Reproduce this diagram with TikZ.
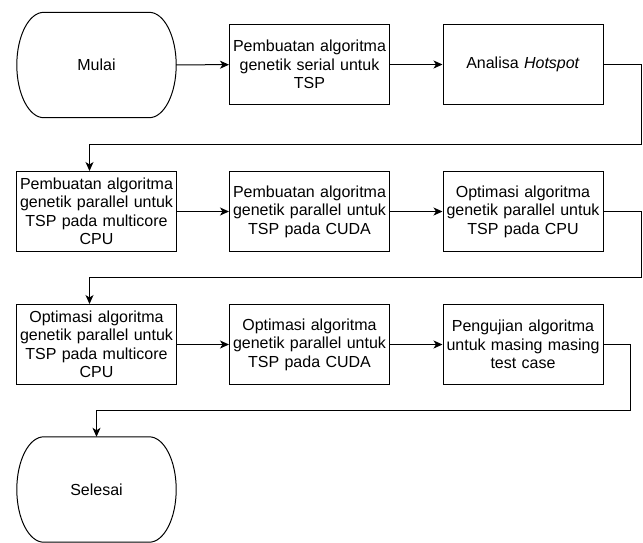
\documentclass[tikz,border=0pt]{standalone}
\usepackage{fontspec}
\setmainfont{Liberation Sans}
\usetikzlibrary{positioning, arrows.meta, calc}

\begin{document}
\begin{tikzpicture}[x=1pt,y=-1pt,
    font=\fontsize{16}{18.5}\selectfont, >={Stealth[length=9pt,width=8pt,inset=2.5pt]},
    proc/.style={rectangle,draw,line width=1pt,minimum width=160pt,minimum height=80pt,
                 text width=156pt,align=center,inner sep=0pt},
    term/.style={rectangle,minimum width=159pt,minimum height=105pt,inner sep=0pt},
    flow/.style={->,line width=1pt}]

  \useasboundingbox (0,0) rectangle (643,542);

  % baris 1
  \node[term] (mulai) at (96.5,65) {Mulai};
  \node[proc] (serial) at (309.5,64.5) {Pembuatan algoritma\\genetik serial untuk\\TSP};
  \node[proc] (hotspot) at (523,64.5) {Analisa \textit{Hotspot}};

  % baris 2
  \node[proc] (parmc) at (96.5,211.5) {Pembuatan algoritma\\genetik parallel untuk\\TSP pada multicore\\CPU};
  \node[proc] (parcuda) at (309.5,211.5) {Pembuatan algoritma\\genetik parallel untuk\\TSP pada CUDA};
  \node[proc] (optcpu) at (523,211.5) {Optimasi algoritma\\genetik parallel untuk\\TSP pada CPU};

  % baris 3
  \node[proc] (optmc) at (96.5,344.5) {Optimasi algoritma\\genetik parallel untuk\\TSP pada multicore\\CPU};
  \node[proc] (optcuda) at (309.5,344.5) {Optimasi algoritma\\genetik parallel untuk\\TSP pada CUDA};
  \node[proc] (uji) at (523,344.5) {Pengujian algoritma\\untuk masing masing\\test case};

  \node[term] (selesai) at (96.5,489.5) {Selesai};

  % bentuk terminator
  \foreach \n in {mulai,selesai}
    \draw[line width=1pt] ($(\n.north east)+(-27,0)$)
        .. controls ($(\n.north east)+(-12.1,0)$) and ($(\n.east)+(0,-29)$) .. (\n.east)
        .. controls ($(\n.east)+(0,29)$) and ($(\n.south east)+(-12.1,0)$) .. ($(\n.south east)+(-27,0)$)
        -- ($(\n.south west)+(27,0)$)
        .. controls ($(\n.south west)+(12.1,0)$) and ($(\n.west)+(0,29)$) .. (\n.west)
        .. controls ($(\n.west)+(0,-29)$) and ($(\n.north west)+(12.1,0)$) .. ($(\n.north west)+(27,0)$)
        -- cycle;

  \draw[flow] (mulai) -- (serial);
  \draw[flow] (serial) -- (hotspot);
  \draw[flow] (hotspot.east) -| ++(38,79.5) -| ([xshift=-7pt]parmc.north);
  \draw[flow] (parmc) -- (parcuda);
  \draw[flow] (parcuda) -- (optcpu);
  \draw[flow] (optcpu.east) -| ++(38,65.5) -| ([xshift=-7pt]optmc.north);
  \draw[flow] (optmc) -- (optcuda);
  \draw[flow] (optcuda) -- (uji);
  \draw[flow] (uji.east) -| ++(27,65.5) -| (selesai.north);
\end{tikzpicture}
\end{document}
